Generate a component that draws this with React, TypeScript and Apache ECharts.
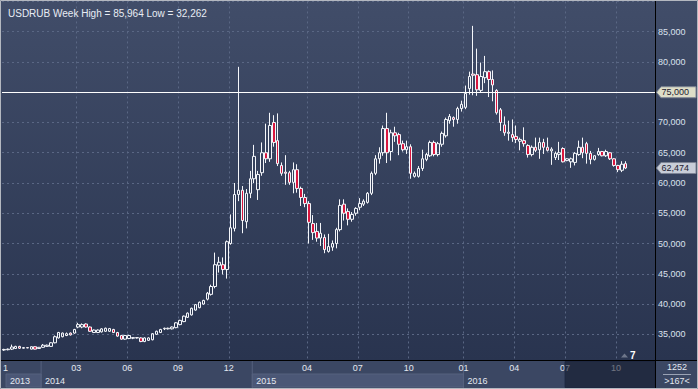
import React, { useEffect, useRef } from 'react';
import * as echarts from 'echarts';

const symbol = 'USDRUB';
const period = 'Week';

const opens = [
  32.40, 32.45, 32.55, 32.65, 33.00, 32.70, 32.80, 32.55, 32.95, 32.65,
  32.85, 33.00, 33.00, 33.60, 34.40, 34.60, 34.80, 35.20, 35.20, 36.20,
  36.20, 36.70, 36.20, 35.30, 35.30, 35.40, 35.50, 35.50, 35.80, 35.30,
  34.80, 34.20, 34.30, 34.35, 34.40, 34.40, 33.80, 34.00, 34.10, 35.00,
  35.30, 35.90, 35.90, 35.90, 36.10, 36.60, 37.10, 37.80, 38.20, 39.00,
  39.40, 40.00, 40.80, 41.60, 42.90, 46.40, 46.50, 45.70, 50.00, 52.50,
  58.10, 58.80, 53.60, 58.30, 60.70, 58.90, 61.70, 65.00, 64.00, 70.00,
  67.00, 62.90, 61.80, 61.70, 60.10, 62.20, 59.10, 57.60, 56.60, 53.30,
  52.00, 50.90, 51.00, 48.70, 49.40, 50.00, 52.30, 56.50, 55.30, 54.00,
  55.00, 56.00, 56.50, 56.80, 58.30, 61.60, 64.00, 65.00, 69.00, 65.20,
  68.30, 68.00, 66.50, 65.50, 66.00, 61.10, 61.10, 62.40, 63.90, 64.50,
  66.70, 64.70, 66.40, 67.80, 70.30, 70.80, 70.50, 72.30, 72.50, 75.60,
  78.00, 77.90, 75.30, 77.40, 78.40, 77.10, 75.30, 72.10, 69.60, 68.20,
  68.00, 67.70, 66.90, 67.00, 66.20, 64.70, 65.90, 65.50, 66.70, 65.90,
  65.30, 64.20, 64.70, 65.70, 63.70, 63.50, 63.40, 64.70, 65.90, 66.50,
  64.90, 63.90, 64.70, 65.20, 64.50, 65.00, 64.00, 62.90, 62.10, 63.20,
];
const closes = [
  32.50, 32.55, 32.90, 33.00, 32.70, 32.80, 32.75, 32.95, 32.55, 32.85,
  33.20, 33.20, 33.60, 34.60, 35.30, 35.20, 35.10, 34.90, 35.80, 36.60,
  36.60, 36.20, 35.50, 35.70, 35.70, 35.90, 36.00, 35.95, 35.30, 34.70,
  34.20, 34.80, 34.80, 34.45, 34.45, 33.80, 34.40, 34.40, 35.10, 35.50,
  35.80, 36.00, 36.00, 36.20, 36.90, 37.30, 38.00, 38.50, 39.30, 39.90,
  40.30, 40.60, 41.80, 42.90, 46.50, 46.90, 45.70, 50.30, 52.60, 58.10,
  58.80, 53.80, 58.30, 60.70, 64.40, 61.40, 65.00, 64.00, 69.50, 66.70,
  63.20, 61.60, 61.60, 60.10, 62.20, 59.10, 57.60, 56.60, 53.50, 51.80,
  50.90, 51.70, 49.00, 49.50, 50.00, 52.30, 56.30, 55.00, 54.00, 54.80,
  55.80, 56.60, 57.00, 58.30, 61.60, 64.00, 65.00, 69.00, 65.00, 68.30,
  67.80, 66.40, 65.50, 66.00, 61.60, 61.60, 62.40, 64.00, 64.70, 66.70,
  64.70, 66.50, 68.20, 70.50, 71.00, 70.50, 72.30, 73.00, 74.80, 77.60,
  77.80, 75.40, 77.60, 78.40, 77.10, 76.20, 71.60, 70.00, 68.30, 68.40,
  67.50, 67.20, 67.20, 66.50, 64.70, 65.90, 65.40, 66.70, 65.90, 65.40,
  65.60, 64.90, 65.00, 63.50, 64.00, 64.00, 64.90, 65.90, 65.00, 64.90,
  63.90, 64.50, 65.20, 64.50, 65.20, 64.00, 62.90, 62.20, 63.10, 62.474,
];
const lows = [
  32.262, 32.35, 32.40, 32.60, 32.60, 32.65, 32.70, 32.50, 32.50, 32.60,
  32.80, 32.95, 32.95, 33.50, 34.30, 34.50, 34.70, 34.80, 35.10, 36.00,
  36.00, 36.10, 35.40, 35.20, 35.20, 35.30, 35.40, 35.40, 35.20, 34.60,
  34.10, 34.10, 34.20, 34.20, 34.30, 33.70, 33.70, 33.90, 34.00, 34.90,
  35.20, 35.70, 35.80, 35.80, 36.00, 36.50, 37.00, 37.70, 38.10, 38.90,
  39.30, 39.90, 40.60, 41.40, 42.60, 45.20, 44.90, 44.20, 49.80, 52.00,
  57.00, 51.70, 52.50, 57.50, 60.00, 57.20, 61.20, 63.30, 63.50, 66.00,
  62.80, 61.20, 59.70, 59.70, 58.30, 58.40, 56.20, 56.00, 50.00, 50.60,
  50.30, 49.60, 48.40, 48.50, 48.80, 49.20, 52.00, 53.80, 53.00, 53.60,
  54.60, 55.50, 56.20, 56.60, 58.00, 61.30, 63.20, 64.50, 63.30, 63.70,
  66.80, 64.60, 65.20, 64.80, 60.70, 60.90, 60.90, 62.00, 63.60, 64.30,
  64.40, 64.40, 66.00, 67.50, 69.80, 69.30, 69.80, 71.80, 72.20, 74.60,
  74.50, 74.40, 75.00, 76.50, 74.20, 73.50, 71.30, 68.60, 67.80, 67.00,
  66.80, 66.60, 65.40, 66.00, 64.20, 64.40, 65.10, 64.00, 64.80, 65.20,
  63.00, 63.80, 63.80, 63.40, 63.60, 62.50, 62.90, 64.50, 64.10, 63.20,
  63.10, 63.70, 64.50, 64.40, 64.30, 63.80, 62.70, 61.80, 61.80, 62.30,
];
const highs = [
  32.60, 32.65, 33.30, 33.10, 33.10, 32.90, 32.85, 33.00, 33.00, 32.90,
  33.40, 33.30, 33.70, 34.80, 35.40, 35.30, 35.30, 35.30, 35.90, 36.90,
  36.80, 36.80, 36.30, 35.80, 35.80, 36.00, 36.10, 36.05, 35.90, 35.40,
  34.90, 34.90, 34.90, 34.50, 34.50, 34.50, 34.50, 34.50, 35.20, 35.60,
  35.90, 36.10, 36.10, 36.30, 37.00, 37.40, 38.10, 38.60, 39.40, 40.00,
  40.40, 40.70, 42.00, 43.20, 48.50, 47.80, 47.70, 50.50, 54.80, 60.00,
  79.20, 59.50, 59.00, 62.00, 66.30, 62.00, 66.70, 69.80, 71.60, 71.20,
  71.50, 63.40, 64.60, 62.00, 63.40, 63.10, 59.40, 58.20, 57.00, 54.70,
  53.40, 53.40, 51.50, 51.60, 50.50, 52.60, 57.30, 57.30, 55.80, 55.20,
  56.00, 57.50, 57.30, 58.50, 61.90, 64.60, 65.90, 69.50, 71.60, 68.80,
  69.30, 68.30, 67.00, 67.00, 66.40, 61.90, 62.80, 65.50, 65.00, 67.00,
  67.00, 66.80, 68.50, 70.80, 71.40, 71.00, 72.60, 73.60, 76.10, 78.40,
  85.964, 82.20, 79.90, 81.00, 78.60, 78.60, 75.50, 72.40, 71.00, 70.30,
  70.50, 69.50, 67.50, 69.20, 66.40, 66.20, 67.50, 67.50, 67.30, 67.50,
  65.90, 65.20, 66.80, 65.90, 64.10, 64.20, 65.10, 67.00, 67.50, 66.80,
  65.30, 64.60, 65.80, 65.30, 65.50, 65.10, 64.10, 63.00, 63.60, 63.60,
];

const futureSlots = 7;
const levelLine = 75;
const yMin = 30;
const yMax = 90;
const yStep = 5;

const monthTicks = [
  { index: 0, label: '1' },
  { index: 19, label: '03' },
  { index: 32, label: '06' },
  { index: 45, label: '09' },
  { index: 58, label: '12' },
  { index: 78, label: '04' },
  { index: 91, label: '07' },
  { index: 104, label: '10' },
  { index: 118, label: '01' },
  { index: 131, label: '04' },
  { index: 144, label: '07' },
  { index: 157, label: '10' },
];
const yearTicks = [
  { index: 0, label: '2013' },
  { index: 10, label: '2014' },
  { index: 64, label: '2015' },
  { index: 118, label: '2016' },
];
const rangeStartIndex = 144;
const barCountText = '1252';
const visibleText = '>167<';
const offsetText = '7';

const FONT = "'Liberation Sans', Arial, sans-serif";
const fmt = (v: number) => v.toFixed(3).replace('.', ',');

export default function App() {
  const ref = useRef<HTMLDivElement>(null);

  useEffect(() => {
    document.body.style.margin = '0';
    const chart = echarts.init(ref.current!, null, { renderer: 'svg' });
    const n = opens.length;
    const categories: string[] = [];
    for (let i = 0; i < n + futureSlots; i++) categories.push(String(i + 1));
    const data = categories.map((_, i) =>
      i < n ? [opens[i], closes[i], lows[i], highs[i]] : '-'
    );
    const tickSet = new Set(monthTicks.filter((t) => t.index > 0).map((t) => t.index));
    const hi = Math.max(...highs);
    const lo = Math.min(...lows);
    const gridLine = { color: '#5a6784', type: [2, 3] as any, width: 1 };

    chart.setOption({
      animation: false,
      backgroundColor: new echarts.graphic.LinearGradient(0, 0, 0, 1, [
        { offset: 0, color: '#414d69' },
        { offset: 1, color: '#27324d' },
      ]),
      title: {
        text: `${symbol} ${period} High = ${fmt(hi)} Low = ${fmt(lo)}`,
        left: 3,
        top: 3,
        textStyle: { color: '#e8ecf4', fontSize: 10, fontWeight: 'normal', fontFamily: FONT },
      },
      grid: { left: 2, right: 43, top: 1.44, bottom: 24.44 },
      xAxis: {
        type: 'category',
        data: categories,
        boundaryGap: true,
        axisLine: { show: false },
        axisTick: { show: false },
        axisLabel: { show: false },
        splitLine: { show: true, interval: (i: number) => tickSet.has(i), lineStyle: gridLine },
      },
      yAxis: {
        type: 'value',
        position: 'right',
        min: yMin,
        max: yMax,
        interval: yStep,
        axisLine: { show: false },
        axisTick: { show: false },
        axisLabel: {
          margin: 3,
          color: '#dbe2ee',
          fontSize: 9,
          fontFamily: FONT,
          formatter: (v: number) =>
            v <= yMin || v >= yMax || Math.abs(v - levelLine) < 1e-9 ? '' : fmt(v),
        },
        splitLine: { show: true, lineStyle: gridLine },
      },
      series: [
        {
          type: 'candlestick',
          data,
          barWidth: 3,
          itemStyle: {
            color: 'rgba(0,0,0,0)',
            color0: '#d9173f',
            borderColor: '#f4f6fa',
            borderColor0: '#f4f6fa',
            borderWidth: 1,
          },
          markLine: {
            silent: true,
            symbol: ['none', 'none'],
            label: { show: false },
            lineStyle: { color: '#ffffff', width: 1, type: 'solid' },
            data: [{ yAxis: levelLine }],
          },
        },
      ],
    });

    const xc = (i: number) => chart.convertToPixel({ xAxisIndex: 0 }, i) as number;
    const yc = (v: number) => chart.convertToPixel({ yAxisIndex: 0 }, v) as number;
    const bw = xc(1) - xc(0);
    const bnd = (i: number) => xc(i) - bw / 2;
    const right = 655;
    const g: any[] = [];
    const txt = (text: string, x: number, y: number, fill: string, align = 'center', size = 9, weight = 'normal', z = 103) => ({
      type: 'text',
      x,
      y,
      z,
      style: { text, fill, font: `${weight} ${size}px ${FONT}`, align, verticalAlign: 'middle' },
    });

    g.push({ type: 'rect', z: 100, shape: { x: 0, y: 360, width: 698, height: 29 }, style: { fill: '#3b4763' } });
    yearTicks.forEach((t, j) => {
      const x0 = j === 0 ? 6 : bnd(t.index);
      const x1 = j < yearTicks.length - 1 ? bnd(yearTicks[j + 1].index) : right;
      if (j % 2 === 0) {
        g.push({ type: 'rect', z: 101, shape: { x: x0, y: 374, width: x1 - x0, height: 13 }, style: { fill: '#4b5776', stroke: '#56627f', lineWidth: 1 } });
      }
      if (j > 0) {
        g.push({ type: 'line', z: 101, shape: { x1: x0, y1: 361, x2: x0, y2: 388 }, style: { stroke: '#56627f', lineWidth: 1 } });
      }
      g.push(txt(t.label, x0 + 4, 381, '#e4e8f0', 'left'));
    });
    monthTicks.forEach((t, j) => {
      if (j === 0) g.push(txt(t.label, 3, 368, '#e4e8f0', 'left'));
      else g.push(txt(t.label, bnd(t.index), 368, '#e4e8f0', 'center'));
    });
    const rx = bnd(rangeStartIndex);
    g.push({ type: 'rect', z: 104, shape: { x: rx, y: 361.5, width: right - rx, height: 26 }, style: { fill: 'rgba(14,20,38,0.55)', stroke: '#1e2740', lineWidth: 1 } });

    g.push({ type: 'line', z: 105, shape: { x1: 0, y1: 360.5, x2: 698, y2: 360.5 }, style: { stroke: '#000000', lineWidth: 1 } });
    g.push({ type: 'line', z: 105, shape: { x1: 655.5, y1: 0, x2: 655.5, y2: 389 }, style: { stroke: '#000000', lineWidth: 1 } });

    g.push(txt(barCountText, 677, 367, '#e4e8f0', 'center', 9, 'normal', 105));
    g.push({ type: 'line', z: 105, shape: { x1: 663, y1: 374.5, x2: 691, y2: 374.5 }, style: { stroke: '#9aa2b4', lineWidth: 1 } });
    g.push(txt(visibleText, 677, 381, '#e4e8f0', 'center', 9, 'normal', 105));

    g.push({ type: 'polygon', z: 105, shape: { points: [[621, 357.5], [624.5, 353.5], [628, 357.5]] }, style: { fill: '#6e768a' } });
    g.push(txt(offsetText, 630, 355, '#ffffff', 'left', 10, 'bold', 105));

    const tag = (v: number, fill: string) => {
      const y = yc(v);
      g.push({
        type: 'polygon',
        z: 106,
        shape: { points: [[656.5, y], [661, y - 5.5], [696, y - 5.5], [696, y + 5.5], [661, y + 5.5]] },
        style: { fill, stroke: '#7c8494', lineWidth: 1 },
      });
      g.push(txt(fmt(v), 661.5, y, '#1c2030', 'left', 9, 'normal', 107));
    };
    tag(levelLine, '#dedec8');
    tag(closes[n - 1], '#c8cdd8');

    g.push({ type: 'rect', z: 110, shape: { x: 0.5, y: 0.5, width: 697, height: 388 }, style: { fill: 'none', stroke: '#b4b8c0', lineWidth: 1 } });

    chart.setOption({ graphic: g });

    return () => chart.dispose();
  }, []);

  return <div ref={ref} style={{ width: 698, height: 389 }} />;
}
